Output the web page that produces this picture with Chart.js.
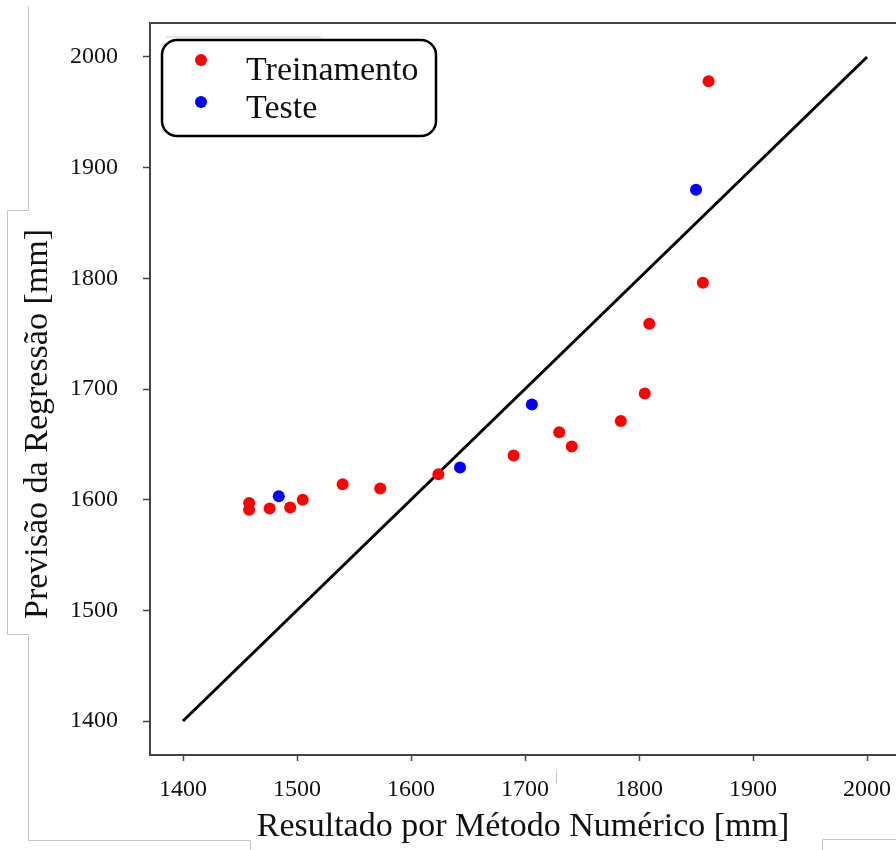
<!DOCTYPE html>
<html>
<head>
<meta charset="utf-8">
<script src="https://cdn.jsdelivr.net/npm/chart.js@4/dist/chart.umd.min.js"></script>
<style>
  html, body { margin: 0; padding: 0; background: #fff; }
  #wrap { width: 896px; height: 850px; }
</style>
</head>
<body>
<div id="wrap"><canvas id="regChart" width="896" height="850"></canvas></div>
<script>
// valores
const treinoX = [1458, 1458, 1476, 1494, 1505, 1540, 1573, 1624, 1690, 1730, 1741, 1784, 1805, 1809, 1856, 1861];
const treinoY = [1597, 1591, 1592, 1593, 1600, 1614, 1610, 1623, 1640, 1661, 1648, 1671, 1696, 1759, 1796, 1978];
const testeX = [1484, 1643, 1706, 1850];
const testeY = [1603, 1629, 1686, 1880];
const linhaX = [1400, 2000];
const linhaY = [1400, 2000];
const xTicks = [1400, 1500, 1600, 1700, 1800, 1900, 2000];
const yTicks = [1400, 1500, 1600, 1700, 1800, 1900, 2000];

const tituloX = 'Resultado por Método Numérico [mm]';
const tituloY = 'Previsão da Regressão [mm]';
const serif = '"Liberation Serif", "Times New Roman", serif';

function pares(xs, ys) {
  return xs.map((x, i) => ({ x: x, y: ys[i] }));
}

// moldura de cima, título do eixo y, legenda e restos cinzentos da figura original
const extras = {
  id: 'extras',
  afterDraw(chart) {
    const ctx = chart.ctx;
    const area = chart.chartArea;
    ctx.save();

    // linha de cima
    ctx.strokeStyle = '#444';
    ctx.lineWidth = 2;
    ctx.beginPath();
    ctx.moveTo(area.left - 1, area.top);
    ctx.lineTo(896, area.top);
    ctx.stroke();

    // título do eixo y
    ctx.fillStyle = '#111';
    ctx.font = '34px ' + serif;
    ctx.textAlign = 'center';
    ctx.textBaseline = 'alphabetic';
    ctx.translate(47, 424);
    ctx.rotate(-Math.PI / 2);
    ctx.fillText(tituloY, 0, 0);
    ctx.setTransform(1, 0, 0, 1, 0, 0);

    // restos cinzentos
    ctx.strokeStyle = '#c4c4c4';
    ctx.lineWidth = 1;
    ctx.beginPath();
    ctx.moveTo(28.5, 6); ctx.lineTo(28.5, 210.5); ctx.lineTo(7.5, 210.5);
    ctx.lineTo(7.5, 634.5); ctx.lineTo(28.5, 634.5); ctx.lineTo(28.5, 840.5);
    ctx.lineTo(250.5, 840.5); ctx.lineTo(250.5, 850);
    ctx.moveTo(822.5, 850); ctx.lineTo(822.5, 839.5); ctx.lineTo(896, 839.5);
    ctx.moveTo(556.5, 770); ctx.lineTo(556.5, 783);
    ctx.stroke();

    // legenda antiga (fantasma)
    ctx.strokeStyle = '#e0e0e0';
    ctx.lineWidth = 1.5;
    ctx.beginPath();
    ctx.moveTo(166, 37); ctx.lineTo(318, 37);
    ctx.quadraticCurveTo(322, 37, 323, 40);
    ctx.moveTo(163, 127); ctx.lineTo(231, 127);
    ctx.stroke();

    // legenda
    const bx = 162, by = 40, bw = 274, bh = 96, r = 15;
    ctx.fillStyle = '#fff';
    ctx.strokeStyle = '#000';
    ctx.lineWidth = 2.5;
    ctx.beginPath();
    ctx.roundRect(bx, by, bw, bh, r);
    ctx.fill();
    ctx.stroke();

    const itens = chart.data.datasets.filter(d => d.label !== 'y = x');
    const ys = [60, 102];
    const base = [80, 118];
    ctx.font = '34px ' + serif;
    ctx.textAlign = 'left';
    ctx.textBaseline = 'alphabetic';
    itens.forEach((d, i) => {
      ctx.fillStyle = d.backgroundColor;
      ctx.beginPath();
      ctx.arc(201, ys[i], 6, 0, Math.PI * 2);
      ctx.fill();
      ctx.fillStyle = '#111';
      ctx.fillText(d.label, 246, base[i]);
    });
    ctx.restore();
  }
};

const ctx = document.getElementById('regChart').getContext('2d');
const regChart = new Chart(ctx, {
  type: 'scatter',
  data: {
    datasets: [
      {
        label: 'y = x',
        type: 'line',
        data: pares(linhaX, linhaY),
        borderColor: '#000',
        borderWidth: 3,
        pointRadius: 0,
        fill: false,
        order: 2
      },
      {
        label: 'Treinamento',
        data: pares(treinoX, treinoY),
        backgroundColor: '#ff0000',
        borderWidth: 0,
        pointRadius: 6,
        order: 1
      },
      {
        label: 'Teste',
        data: pares(testeX, testeY),
        backgroundColor: '#0000ff',
        borderWidth: 0,
        pointRadius: 6,
        order: 0
      }
    ]
  },
  options: {
    responsive: false,
    animation: false,
    layout: { autoPadding: false, padding: { top: 23, left: 0, right: 0, bottom: 0 } },
    plugins: {
      legend: { display: false },
      tooltip: { enabled: false }
    },
    scales: {
      x: {
        type: 'linear',
        min: 1371.05,
        max: 2025.4,
        afterFit: s => { s.height = 95; s.paddingLeft = 0; s.paddingRight = 0; },
        afterBuildTicks: s => { s.ticks = xTicks.map(v => ({ value: v })); },
        border: { color: '#444', width: 2 },
        grid: { drawOnChartArea: false, drawTicks: true, tickLength: 6, color: '#444', tickWidth: 1.5 },
        ticks: {
          padding: 14,
          maxRotation: 0,
          color: '#111',
          font: { family: serif, size: 24 },
          callback: v => String(v)
        },
        title: {
          display: true,
          text: tituloX,
          color: '#111',
          font: { family: serif, size: 34 },
          padding: { top: 0, bottom: 3 }
        }
      },
      y: {
        type: 'linear',
        min: 1369.3,
        max: 2030.7,
        afterFit: s => { s.width = 150; s.paddingTop = 0; s.paddingBottom = 0; },
        afterBuildTicks: s => { s.ticks = yTicks.map(v => ({ value: v })); },
        border: { color: '#444', width: 2 },
        grid: { drawOnChartArea: false, drawTicks: true, tickLength: 7, color: '#444', tickWidth: 1.5 },
        ticks: {
          padding: 25,
          color: '#111',
          font: { family: serif, size: 24 },
          callback: v => String(v)
        },
        title: { display: false }
      }
    }
  },
  plugins: [extras]
});
</script>
</body>
</html>
